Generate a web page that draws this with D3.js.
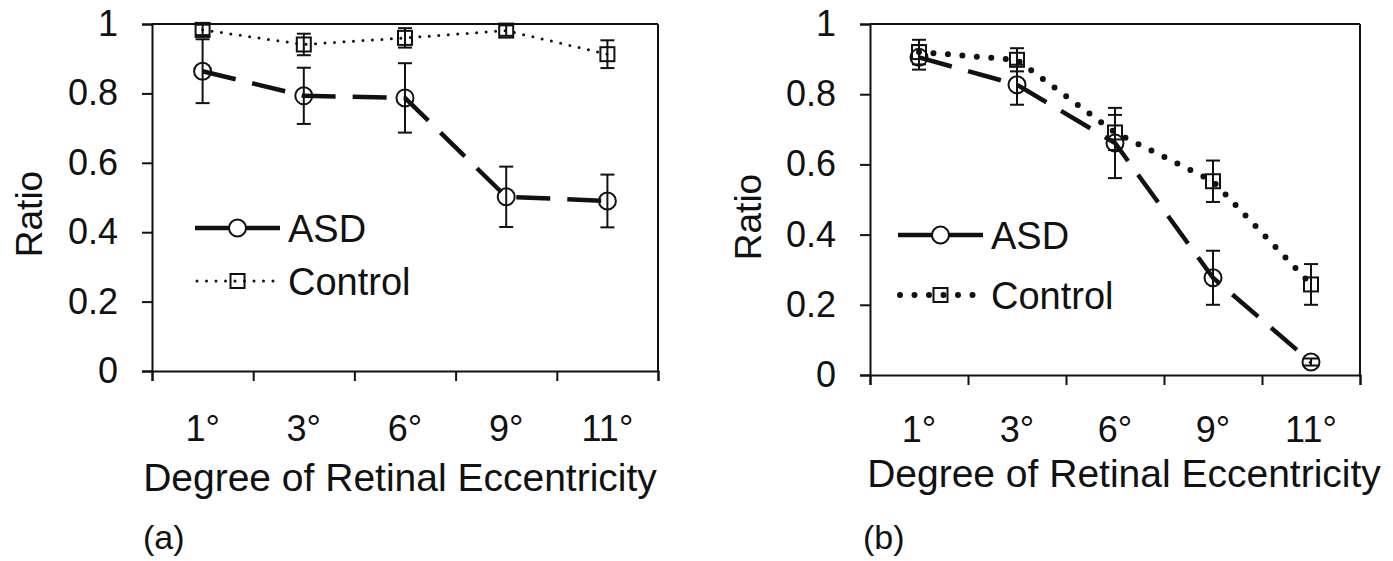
<!DOCTYPE html>
<html>
<head>
<meta charset="utf-8">
<script src="https://cdn.jsdelivr.net/npm/d3@7"></script>
<style>
  body { margin: 0; background: #fff; }
  text { font-family: Arial, "Liberation Sans", sans-serif; fill: #111; }
</style>
</head>
<body>
<div id="chart"></div>
<script>
// categories and tick labels
var categories = ["1°", "3°", "6°", "9°", "11°"];
var yTicks = [0, 0.2, 0.4, 0.6, 0.8, 1];
var seriesNames = ["ASD", "Control"];

// panel (a)
var asdA = [0.864, 0.793, 0.787, 0.502, 0.490];
var asdErrA = [0.092, 0.081, 0.100, 0.087, 0.076];
var ctlA = [0.983, 0.941, 0.960, 0.981, 0.913];
var ctlErrA = [0.015, 0.031, 0.028, 0.015, 0.040];

// panel (b)
var asdB = [0.905, 0.827, 0.661, 0.277, 0.037];
var asdErrB = [0.035, 0.057, 0.100, 0.077, 0.010];
var ctlB = [0.920, 0.898, 0.691, 0.552, 0.258];
var ctlErrB = [0.035, 0.033, 0.050, 0.059, 0.058];

var svg = d3.select("#chart").append("svg")
  .attr("width", 1393)
  .attr("height", 561);

var ink = "#111";

function drawPanel(p) {
  var x = d3.scaleBand().domain(categories).range([p.left, p.right]).padding(0);
  var xEdge = d3.scaleLinear().domain([0, categories.length]).range([p.left, p.right]);
  var y = d3.scaleLinear().domain([0, 1]).range([p.bottom, p.top]);
  var cx = function(d, i) { return x(categories[i]) + x.bandwidth() / 2; };

  var g = svg.append("g");

  // plot box (top and right)
  g.append("line").attr("x1", p.left).attr("x2", p.right).attr("y1", p.top).attr("y2", p.top)
    .attr("stroke", ink).attr("stroke-width", 2);
  g.append("line").attr("x1", p.right).attr("x2", p.right).attr("y1", p.top).attr("y2", p.bottom)
    .attr("stroke", ink).attr("stroke-width", 2);

  // y axis
  var ya = g.append("g").attr("transform", "translate(" + p.left + ",0)")
    .call(d3.axisLeft(y).tickValues(yTicks).tickSize(10).tickPadding(24).tickFormat(d3.format("~g")));
  ya.select(".domain").attr("stroke", ink).attr("stroke-width", 2);
  ya.selectAll(".tick line").attr("stroke", ink).attr("stroke-width", 2);
  ya.selectAll("text").attr("font-size", 36).attr("fill", ink);

  // x tick marks between categories
  var xt = g.append("g").attr("transform", "translate(0," + p.bottom + ")")
    .call(d3.axisBottom(xEdge).tickValues(d3.range(categories.length + 1)).tickSize(10).tickFormat(""));
  xt.select(".domain").attr("stroke", ink).attr("stroke-width", 2);
  xt.selectAll(".tick line").attr("stroke", ink).attr("stroke-width", 2);

  // x labels at category centers
  var xl = g.append("g").attr("transform", "translate(0," + p.bottom + ")")
    .call(d3.axisBottom(x).tickSize(0).tickPadding(p.labelPad));
  xl.select(".domain").remove();
  xl.selectAll("text").attr("font-size", 36).attr("fill", ink);

  // axis titles
  g.append("text")
    .attr("transform", "translate(" + p.yTitleX + "," + p.yTitleY + ") rotate(-90)")
    .attr("text-anchor", "middle")
    .attr("font-size", 37)
    .text("Ratio");

  g.append("text")
    .attr("x", p.xTitleX).attr("y", p.xTitleY)
    .attr("text-anchor", "middle")
    .attr("font-size", 39)
    .text("Degree of Retinal Eccentricity");

  g.append("text")
    .attr("x", p.tagX).attr("y", 549)
    .attr("font-size", 34)
    .text(p.tag);

  var line = d3.line().x(cx).y(function(d) { return y(d); });

  // control line
  g.append("path").datum(p.ctl)
    .attr("d", line).attr("fill", "none").attr("stroke", ink)
    .attr("stroke-width", p.ctlWidth).attr("stroke-dasharray", p.ctlDash)
    .attr("stroke-linecap", "round");

  // asd line
  g.append("path").datum(p.asd)
    .attr("d", line).attr("fill", "none").attr("stroke", ink)
    .attr("stroke-width", 4.5).attr("stroke-dasharray", "34,17");

  function errBars(vals, errs) {
    var eb = g.append("g").selectAll("g").data(vals).enter().append("g");
    eb.append("line")
      .attr("x1", cx).attr("x2", cx)
      .attr("y1", function(d, i) { return y(d + errs[i]); })
      .attr("y2", function(d, i) { return y(d - errs[i]); })
      .attr("stroke", ink).attr("stroke-width", 2);
    [1, -1].forEach(function(s) {
      eb.append("line")
        .attr("x1", function(d, i) { return cx(d, i) - 7; })
        .attr("x2", function(d, i) { return cx(d, i) + 7; })
        .attr("y1", function(d, i) { return y(d + s * errs[i]); })
        .attr("y2", function(d, i) { return y(d + s * errs[i]); })
        .attr("stroke", ink).attr("stroke-width", 2);
    });
  }
  errBars(p.ctl, p.ctlErr);
  errBars(p.asd, p.asdErr);

  g.append("g").selectAll("rect").data(p.ctl).enter().append("rect")
    .attr("x", function(d, i) { return cx(d, i) - 7; })
    .attr("y", function(d) { return y(d) - 7; })
    .attr("width", 14).attr("height", 14)
    .attr("fill", "none").attr("stroke", ink).attr("stroke-width", 2);

  g.append("g").selectAll("circle").data(p.asd).enter().append("circle")
    .attr("cx", cx).attr("cy", function(d) { return y(d); })
    .attr("r", 8.5)
    .attr("fill", "none").attr("stroke", ink).attr("stroke-width", 2);

  // legend
  var lx0 = p.legX, lx1 = p.legX + 85, lm = (lx0 + lx1) / 2;
  g.append("line").attr("x1", lx0).attr("x2", lx1).attr("y1", p.legY1).attr("y2", p.legY1)
    .attr("stroke", ink).attr("stroke-width", 4.5);
  g.append("circle").attr("cx", lm).attr("cy", p.legY1).attr("r", 8.5)
    .attr("fill", "#fff").attr("stroke", ink).attr("stroke-width", 2);
  g.append("text").attr("x", lx1 + 8).attr("y", p.legY1 + 14).attr("font-size", 38).text(seriesNames[0]);

  g.append("line").attr("x1", lx0 + 2).attr("x2", lx1 - 4).attr("y1", p.legY2).attr("y2", p.legY2)
    .attr("stroke", ink).attr("stroke-width", p.ctlWidth).attr("stroke-dasharray", p.ctlDash)
    .attr("stroke-linecap", "round");
  g.append("rect").attr("x", lm - 7).attr("y", p.legY2 - 7).attr("width", 14).attr("height", 14)
    .attr("fill", "none").attr("stroke", ink).attr("stroke-width", 2);
  g.append("text").attr("x", lx1 + 8).attr("y", p.legY2 + 14).attr("font-size", 38).text(seriesNames[1]);
}

drawPanel({
  left: 152, right: 658, top: 24, bottom: 371, labelPad: 44,
  asd: asdA, asdErr: asdErrA, ctl: ctlA, ctlErr: ctlErrA,
  ctlWidth: 3, ctlDash: "0,9.5",
  yTitleX: 42, yTitleY: 214, xTitleX: 400, xTitleY: 491,
  tag: "(a)", tagX: 143,
  legX: 195, legY1: 228, legY2: 281
});

drawPanel({
  left: 870, right: 1360, top: 24, bottom: 375, labelPad: 41,
  asd: asdB, asdErr: asdErrB, ctl: ctlB, ctlErr: ctlErrB,
  ctlWidth: 6, ctlDash: "0,14.5",
  yTitleX: 761, yTitleY: 217, xTitleX: 1124, xTitleY: 487,
  tag: "(b)", tagX: 863,
  legX: 898, legY1: 235, legY2: 295
});
</script>
</body>
</html>
